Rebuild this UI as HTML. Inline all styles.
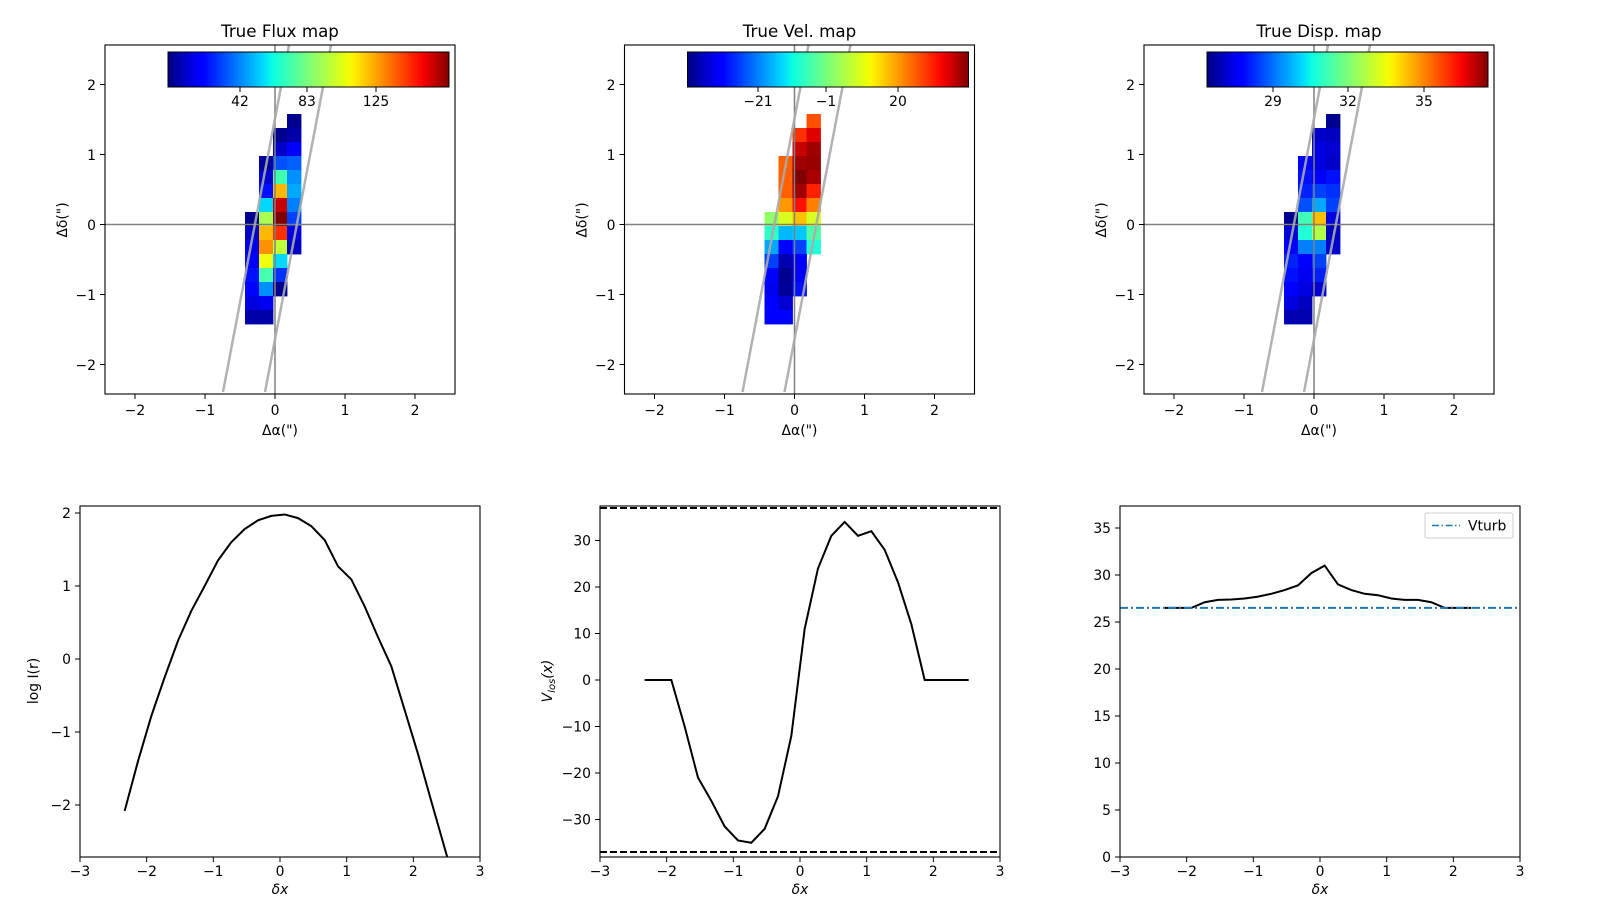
<!DOCTYPE html>
<html><head><meta charset="utf-8"><style>
body{margin:0;background:#fff}
svg{display:block}
text{font-family:"DejaVu Sans","Liberation Sans",sans-serif;fill:#000}
.t{font-size:13.9px}
.ti{font-size:16.7px}
</style></head><body>
<svg id="s" width="1600" height="900" xmlns="http://www.w3.org/2000/svg">
<defs>
<linearGradient id="jet" x1="0" x2="1" y1="0" y2="0">
<stop offset="0" stop-color="#000080"/><stop offset="0.11" stop-color="#0000ff"/><stop offset="0.125" stop-color="#0000ff"/>
<stop offset="0.34" stop-color="#00dbff"/><stop offset="0.375" stop-color="#0dffe1"/><stop offset="0.5" stop-color="#7cff79"/>
<stop offset="0.64" stop-color="#f0ff05"/><stop offset="0.66" stop-color="#fff200"/><stop offset="0.89" stop-color="#ff0f00"/>
<stop offset="0.91" stop-color="#f50000"/><stop offset="1" stop-color="#800000"/>
</linearGradient>
<clipPath id="c0"><rect x="105" y="45" width="350" height="349"/></clipPath>
<clipPath id="c1"><rect x="624.5" y="45" width="350" height="349"/></clipPath>
<clipPath id="c2"><rect x="1144" y="45" width="350" height="349"/></clipPath>
<clipPath id="b0"><rect x="80" y="506" width="400" height="351"/></clipPath>
<clipPath id="b1"><rect x="600" y="506" width="400" height="351"/></clipPath>
<clipPath id="b2"><rect x="1120" y="506" width="400" height="351"/></clipPath>
</defs>
<g id="g"></g>
<!-- titles -->
<text class="ti" x="280" y="37" text-anchor="middle">True Flux map</text>
<text class="ti" x="799.5" y="37" text-anchor="middle">True Vel. map</text>
<text class="ti" x="1319" y="37" text-anchor="middle">True Disp. map</text>
<!-- top x labels -->
<text class="t" x="280" y="435" text-anchor="middle">Δα(")</text>
<text class="t" x="799.5" y="435" text-anchor="middle">Δα(")</text>
<text class="t" x="1319" y="435" text-anchor="middle">Δα(")</text>
<text class="t" transform="translate(67,220) rotate(-90)" text-anchor="middle">Δδ(")</text>
<text class="t" transform="translate(586.5,220) rotate(-90)" text-anchor="middle">Δδ(")</text>
<text class="t" transform="translate(1106,220) rotate(-90)" text-anchor="middle">Δδ(")</text>
<!-- top tick labels x -->
<g class="t" text-anchor="middle">
<text x="135" y="415">−2</text><text x="205" y="415">−1</text><text x="275" y="415">0</text><text x="345" y="415">1</text><text x="415" y="415">2</text>
<text x="654.5" y="415">−2</text><text x="724.5" y="415">−1</text><text x="794.5" y="415">0</text><text x="864.5" y="415">1</text><text x="934.5" y="415">2</text>
<text x="1174" y="415">−2</text><text x="1244" y="415">−1</text><text x="1314" y="415">0</text><text x="1384" y="415">1</text><text x="1454" y="415">2</text>
</g>
<g class="t" text-anchor="end">
<text x="96" y="90">2</text><text x="96" y="160">1</text><text x="96" y="230">0</text><text x="96" y="300">−1</text><text x="96" y="370">−2</text>
<text x="615.5" y="90">2</text><text x="615.5" y="160">1</text><text x="615.5" y="230">0</text><text x="615.5" y="300">−1</text><text x="615.5" y="370">−2</text>
<text x="1135" y="90">2</text><text x="1135" y="160">1</text><text x="1135" y="230">0</text><text x="1135" y="300">−1</text><text x="1135" y="370">−2</text>
</g>
<!-- colorbar labels -->
<g class="t" text-anchor="middle">
<text x="240" y="106">42</text><text x="307" y="106">83</text><text x="376" y="106">125</text>
<text x="758" y="106">−21</text><text x="826" y="106">−1</text><text x="898" y="106">20</text>
<text x="1273" y="106">29</text><text x="1348" y="106">32</text><text x="1424" y="106">35</text>
</g>
<!-- bottom tick labels -->
<g class="t" text-anchor="middle" id="bx">
<text x="80" y="876">−3</text><text x="146.7" y="876">−2</text><text x="213.3" y="876">−1</text><text x="280" y="876">0</text><text x="346.7" y="876">1</text><text x="413.3" y="876">2</text><text x="480" y="876">3</text>
<text x="600" y="876">−3</text><text x="666.7" y="876">−2</text><text x="733.3" y="876">−1</text><text x="800" y="876">0</text><text x="866.7" y="876">1</text><text x="933.3" y="876">2</text><text x="1000" y="876">3</text>
<text x="1120" y="876">−3</text><text x="1186.7" y="876">−2</text><text x="1253.3" y="876">−1</text><text x="1320" y="876">0</text><text x="1386.7" y="876">1</text><text x="1453.3" y="876">2</text><text x="1520" y="876">3</text>
</g>
<g class="t" font-style="italic" text-anchor="middle">
<text x="280" y="894" style="font-style:italic">δx</text>
<text x="800" y="894" style="font-style:italic">δx</text>
<text x="1320" y="894" style="font-style:italic">δx</text>
</g>
<g class="t" text-anchor="end">
<text x="71" y="518">2</text><text x="71" y="591">1</text><text x="71" y="664">0</text><text x="71" y="737">−1</text><text x="71" y="810">−2</text>
<text x="591" y="545.6">30</text><text x="591" y="592.1">20</text><text x="591" y="638.6">10</text><text x="591" y="685">0</text><text x="591" y="731.5">−10</text><text x="591" y="778">−20</text><text x="591" y="824.5">−30</text>
<text x="1111" y="862">0</text><text x="1111" y="815">5</text><text x="1111" y="768">10</text><text x="1111" y="721">15</text><text x="1111" y="674">20</text><text x="1111" y="627">25</text><text x="1111" y="580">30</text><text x="1111" y="533">35</text>
</g>
<text class="t" transform="translate(38,681) rotate(-90)" text-anchor="middle">log I(r)</text>
<text class="t" transform="translate(552,681) rotate(-90)" text-anchor="middle" style="font-style:italic">V<tspan font-size="10" dy="3">los</tspan><tspan dy="-3">(x)</tspan></text>
<!-- legend -->
<rect x="1425" y="513" width="88" height="25" fill="#fff" stroke="#ccc" rx="2"/>
<line x1="1432" y1="525.5" x2="1460" y2="525.5" stroke="#1f77b4" stroke-width="1.5" stroke-dasharray="7,2.5,1.5,2.5"/>
<text class="t" x="1468" y="530.5">Vturb</text>
</svg>
<script>
const NS="http://www.w3.org/2000/svg",g=document.getElementById('g');
function el(t,a,p){const e=document.createElementNS(NS,t);for(const k in a)e.setAttribute(k,a[k]);(p||g).appendChild(e);return e;}
const flux=[
[null,null,null,'#00008f'],
[null,'#000090','#0000a8',null],
[null,'#0000c8','#0000ff',null],
[null,'#00009a','#0050ff','#0060ff'],
[null,'#0000d0','#40ffb0','#0090ff'],
[null,'#0010ff','#ffb800','#00a8ff'],
[null,'#00d8ff','#c80000','#0080ff'],
['#000090','#a8ff50','#800000','#0040ff'],
['#0000c8','#ffb800','#ff3000','#0000e0'],
['#0000e8','#ff9000','#c0ff38','#0000c0'],
['#0000ff','#f0ff10','#00d8ff',null],
['#0010ff','#48ffb0','#0030ff',null],
['#0000ff','#0090ff','#000090',null],
['#0000e0','#0000f0',null,null],
['#0000a8','#0000a8',null,null]];
// fix flux r1: C,D
flux[1]=[null,null,'#000090','#0000a8'];flux[2]=[null,null,'#0000c8','#0000ff'];
flux[3]=[null,'#00009a','#0050ff','#0060ff'];
const vel=[
[null,null,null,'#ff5000'],
[null,null,'#ff3000','#e00000'],
[null,null,'#c80000','#a00000'],
[null,'#ff6000','#a00000','#980000'],
[null,'#ff6000','#800000','#a80000'],
[null,'#ff6000','#a00000','#ff2000'],
[null,'#ff9800','#ff1000','#ff8000'],
['#90ff68','#d8ff20','#ffc000','#d8ff20'],
['#30ffc8','#00b8ff','#00c8ff','#50ffa8'],
['#00a8ff','#0000ff','#0040ff','#20ffd8'],
['#0040ff','#0000b0','#0000ff',null],
['#0000ff','#000090','#0000ff',null],
['#0000f0','#000098','#0010ff',null],
['#0000ff','#0000d0',null,null],
['#0000ff','#0000ff',null,null]];
const disp=[
[null,null,null,'#000090'],
[null,null,'#0000c8','#0000c0'],
[null,null,'#0000e0','#0000d0'],
[null,'#0000ff','#0000e0','#0000c8'],
[null,'#0010ff','#0000ff','#0010ff'],
[null,'#0020ff','#0040ff','#0030ff'],
[null,'#0050ff','#00a8ff','#0040ff'],
['#000090','#40ffb8','#ffc000','#0000e0'],
['#0000d8','#20ffd8','#b0ff48','#0000c0'],
['#0000ff','#0080ff','#0080ff','#0000d0'],
['#0020ff','#0000ff','#0040ff',null],
['#0010ff','#0000f0','#0020ff',null],
['#0000ff','#0000e0','#0000d0',null],
['#0000e0','#0000c0',null,null],
['#0000b0','#0000b0',null,null]];
const maps=[flux,vel,disp],Ls=[105,624.5,1144];
maps.forEach((m,i)=>{const L=Ls[i];
 const cg=el('g',{'clip-path':`url(#c${i})`});
 m.forEach((row,r)=>row.forEach((c,k)=>{if(c)el('rect',{x:L+140+14*k,y:114+14*r,width:14.4,height:14.4,fill:c},cg);}));
 el('line',{x1:L,x2:L+350,y1:224.5,y2:224.5,stroke:'#808080','stroke-width':1.5},cg);
 el('line',{x1:L+170,x2:L+170,y1:45,y2:394,stroke:'#808080','stroke-width':1.5},cg);
 el('line',{x1:L+118,y1:392,x2:L+184,y2:45,stroke:'#aaa','stroke-width':2.5,'stroke-opacity':0.9},cg);
 el('line',{x1:L+160,y1:392,x2:L+226,y2:45,stroke:'#aaa','stroke-width':2.5,'stroke-opacity':0.9},cg);
 // colorbar
 el('rect',{x:L+63,y:52,width:281,height:35,fill:'url(#jet)',stroke:'#000','stroke-width':1});
 const ct=i==0?[72,139,208]:i==1?[70.5,138.5,210.5]:[66,141,217];
 ct.forEach(t=>el('line',{x1:L+63+t,x2:L+63+t,y1:87,y2:92,stroke:'#000'}));
 el('rect',{x:L,y:45,width:350,height:349,fill:'none',stroke:'#000','stroke-width':1.1});
 for(let k=-2;k<=2;k++){el('line',{x1:L+170+70*k,x2:L+170+70*k,y1:394,y2:399,stroke:'#000'});
  el('line',{x1:L-5,x2:L,y1:224.5-70*k,y2:224.5-70*k,stroke:'#000'});}
});
// bottom
const BL=[80,600,1120];
const xs=[];for(let k=0;k<25;k++)xs.push(-2.33+0.2*k);
const fl=[-2.08,-1.4,-0.78,-0.25,0.25,0.66,1.0,1.35,1.6,1.78,1.9,1.96,1.98,1.93,1.82,1.63,1.27,1.09,0.72,0.3,-0.1,-0.7,-1.3,-1.95,-2.75];
const vl=[0,0,0,-10,-21,-26,-31.5,-34.5,-35,-32,-25,-12,11,24,31,34,31,32,28,21,12,0,0,0,0];
const dl=[26.5,26.5,26.5,27.1,27.35,27.4,27.5,27.7,28.0,28.4,28.9,30.2,31.0,29.0,28.4,28.0,27.85,27.5,27.35,27.35,27.1,26.5,26.5,26.5];
const fy=[v=>659-73*v,v=>680-4.65*v,v=>857-9.4*v];
[fl,vl,dl].forEach((d,i)=>{const L=BL[i];const cg=el('g',{'clip-path':`url(#b${i})`});
 if(i==1){[37,-37].forEach(v=>el('line',{x1:L,x2:L+400,y1:fy[1](v),y2:fy[1](v),stroke:'#000','stroke-width':2,'stroke-dasharray':'7,3'},cg));}
 let xv=xs.slice(0,d.length); if(i==1) xv[24]=2.53; if(i==0) xv[24]=2.52;
 el('polyline',{points:d.map((v,k)=>`${L+200+66.667*xv[k]},${fy[i](v)}`).join(' '),fill:'none',stroke:'#000','stroke-width':2},cg);
 if(i==2) el('line',{x1:L,x2:L+400,y1:fy[2](26.5),y2:fy[2](26.5),stroke:'#1f77b4','stroke-width':2,'stroke-dasharray':'8,3,2,3'},cg);
 el('rect',{x:L,y:506,width:400,height:351,fill:'none',stroke:'#000','stroke-width':1.1});
 for(let k=-3;k<=3;k++)el('line',{x1:L+200+66.667*k,x2:L+200+66.667*k,y1:857,y2:862,stroke:'#000'});
 const yt=i==0?[-2,-1,0,1,2]:i==1?[-30,-20,-10,0,10,20,30]:[0,5,10,15,20,25,30,35];
 yt.forEach(v=>el('line',{x1:L-5,x2:L,y1:fy[i](v),y2:fy[i](v),stroke:'#000'}));
});
</script>
</body></html>
